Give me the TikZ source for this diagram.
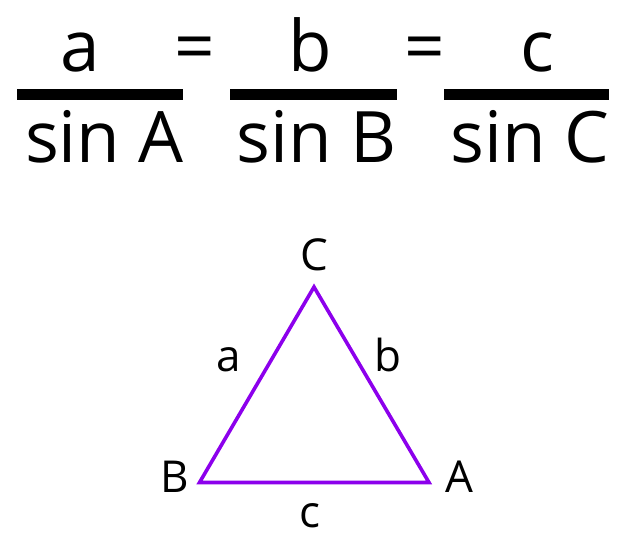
\documentclass[tikz,border=0pt]{standalone}
\usepackage{fontspec}
\setmainfont{Open Sans}
\definecolor{tri}{RGB}{140,0,236}
\tikzset{
  big/.style={inner sep=0pt, anchor=base, font=\fontsize{71}{84}\selectfont},
  small/.style={inner sep=0pt, anchor=base, font=\fontsize{44}{52}\selectfont},
  fracbar/.style={fill=black, draw=none},
  side/.style={draw=tri, line width=3.6pt, line join=miter}
}
\begin{document}
\begin{tikzpicture}[x=1pt,y=-1pt]
\useasboundingbox (0,0) rectangle (627,538);
% fractions
\node[big] (na) at (80,71) {a};
\node[big] (sa) at (104.5,162) {sin A};
\fill[fracbar] (17,88.5) rectangle (183,99.5);
\node[big] (eq1) at (195,71) {=};
\node[big] (nb) at (310,71) {b};
\node[big] (sb) at (316.5,162) {sin B};
\fill[fracbar] (230,88.5) rectangle (397,99.5);
\node[big] (eq2) at (425,71) {=};
\node[big] (nc) at (537,71) {c};
\node[big] (sc) at (530,162) {sin C};
\fill[fracbar] (444,88.5) rectangle (609,99.5);
% triangle
\coordinate (vB) at (199.5,482.5);
\coordinate (vA) at (429,482.5);
\coordinate (vC) at (314,287);
\draw[side] (vB) -- (vA) -- (vC) -- cycle;
\node[small] (lC) at (314,270) {C};
\node[small] (lB) at (174.5,492.5) {B};
\node[small] (lA) at (459,492.5) {A};
\node[small] (la) at (228.5,371.5) {a};
\node[small] (lb) at (388,371.5) {b};
\node[small] (lc) at (310,527) {c};
\end{tikzpicture}
\end{document}
